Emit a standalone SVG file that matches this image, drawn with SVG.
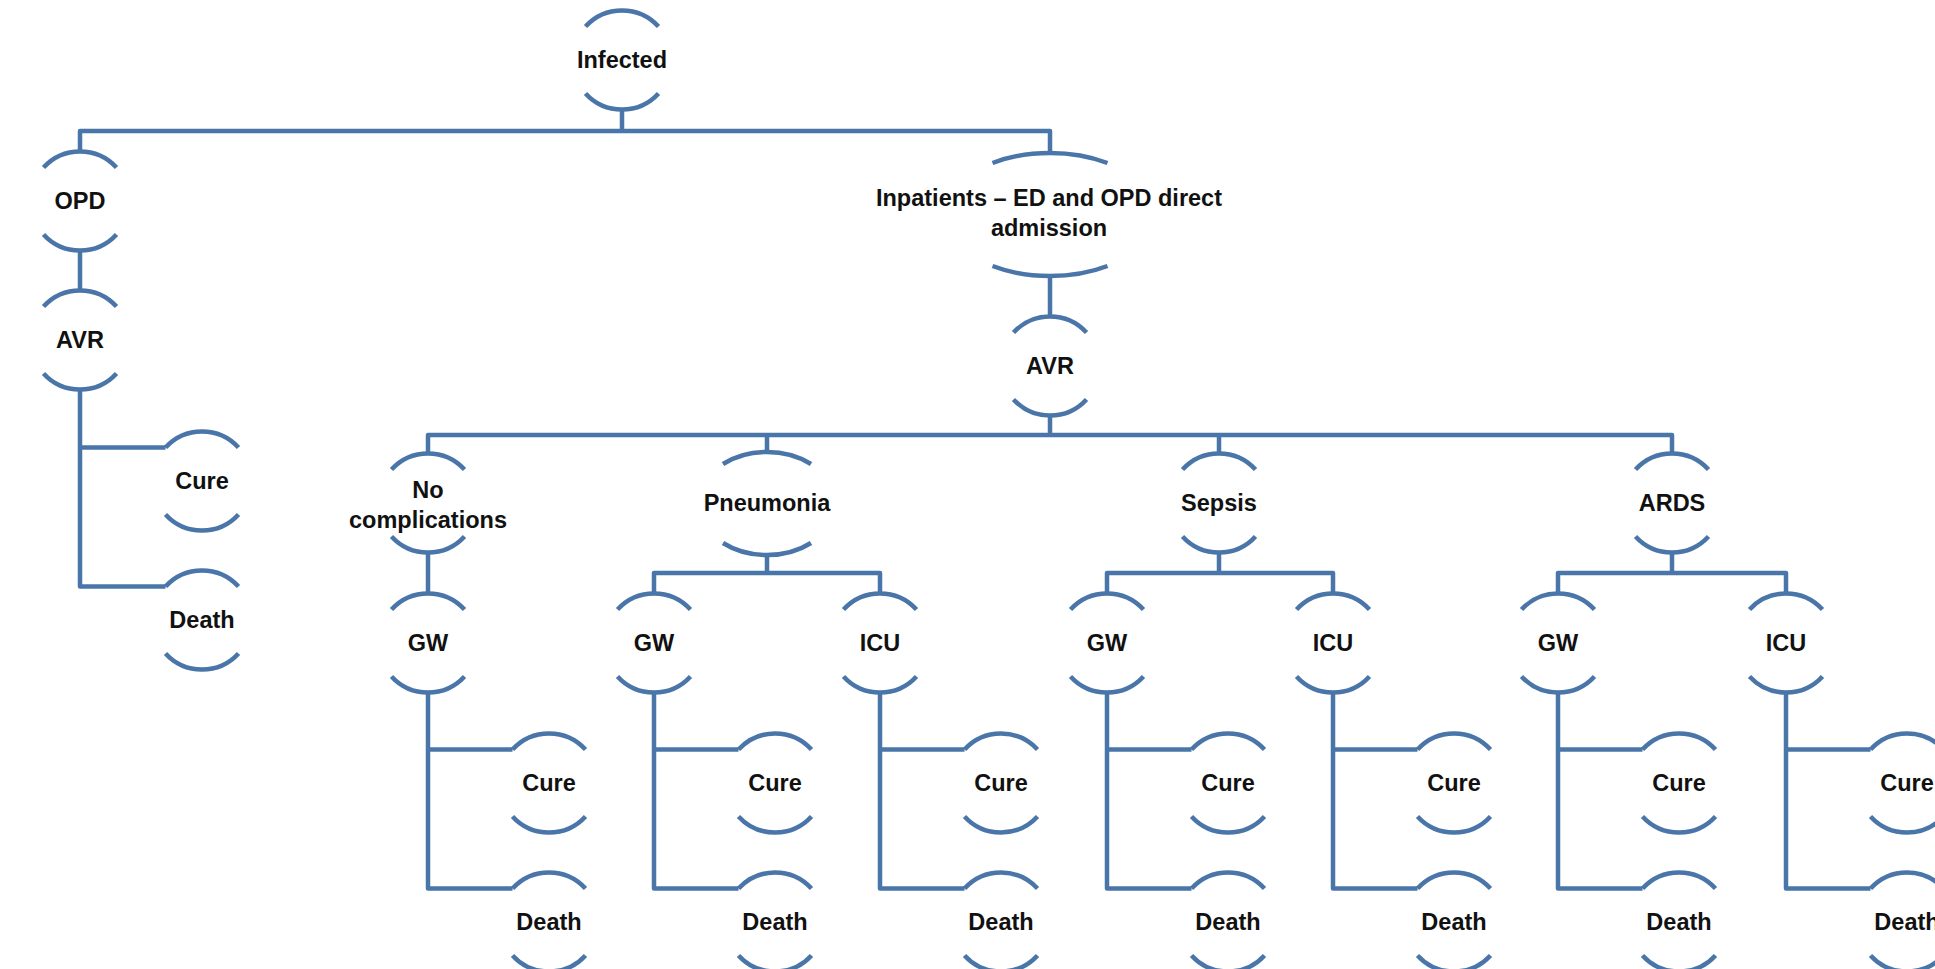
<svg xmlns="http://www.w3.org/2000/svg" xmlns:xlink="http://www.w3.org/1999/xlink" width="1935" height="969" viewBox="0 0 1935 969">
<style>
.arc{fill:none;stroke:#4a75a9;stroke-width:4.5;stroke-linecap:butt}
.ln{fill:none;stroke:#4a75a9;stroke-width:4.5;stroke-linejoin:round;stroke-linecap:butt}
text{font-family:"Liberation Sans",Arial,sans-serif;font-weight:bold;font-size:23.5px;fill:#111;text-anchor:middle}
</style>
<defs>
<path id="nd" class="arc" d="M-36.5,-33.4 A49.5,49.5 0 0 1 36.5,-33.4 M-36.5,33.4 A49.5,49.5 0 0 0 36.5,33.4"/>
</defs>
<rect width="1935" height="969" fill="#fff"/>
<g id="connectors">
<path class="ln" d="M622,109.5 V131 M80,151.5 V131 H1050 V153"/>
<path class="ln" d="M80,250.5 V290.5"/>
<path class="ln" d="M80,389.5 V586.6 H165.5 M80,447.6 H165.5"/>
<path class="ln" d="M1050,276 V316.5"/>
<path class="ln" d="M1050,415.5 V435 M428,453.5 V435 H1672 V453.5 M767,435 V452 M1219,435 V453.5"/>
<path class="ln" d="M428,552.5 V593.5"/>
<path class="ln" d="M767,555 V573 M654,593.5 V573 H880 V593.5"/>
<path class="ln" d="M1219,552.5 V573 M1107,593.5 V573 H1333 V593.5"/>
<path class="ln" d="M1672,552.5 V573 M1558,593.5 V573 H1786 V593.5"/>
<path class="ln" d="M428,692.5 V888.6 H512.5 M428,749.6 H512.5"/>
<path class="ln" d="M654,692.5 V888.6 H738.5 M654,749.6 H738.5"/>
<path class="ln" d="M880,692.5 V888.6 H964.5 M880,749.6 H964.5"/>
<path class="ln" d="M1107,692.5 V888.6 H1191.5 M1107,749.6 H1191.5"/>
<path class="ln" d="M1333,692.5 V888.6 H1417.5 M1333,749.6 H1417.5"/>
<path class="ln" d="M1558,692.5 V888.6 H1642.5 M1558,749.6 H1642.5"/>
<path class="ln" d="M1786,692.5 V888.6 H1870.5 M1786,749.6 H1870.5"/>
</g>
<g id="infected"><use href="#nd" x="622" y="60"/><text x="622" y="68">Infected</text></g>
<g id="opd"><use href="#nd" x="80" y="201"/><text x="80" y="209">OPD</text></g>
<g id="opd-avr"><use href="#nd" x="80" y="340"/><text x="80" y="348">AVR</text></g>
<g id="opd-cure"><use href="#nd" x="202" y="481"/><text x="202" y="489">Cure</text></g>
<g id="opd-death"><use href="#nd" x="202" y="620"/><text x="202" y="628">Death</text></g>
<g id="inpatients"><path class="arc" d="M992.5,163 A105,61.5 0 0 1 1107.5,163 M992.5,266 A105,61.5 0 0 0 1107.5,266"/><text x="1049" y="206">Inpatients – ED and OPD direct</text><text x="1049" y="236">admission</text></g>
<g id="inp-avr"><use href="#nd" x="1050" y="366"/><text x="1050" y="374">AVR</text></g>
<g id="no-complications"><use href="#nd" x="428" y="503"/><text x="428" y="498">No</text><text x="428" y="528">complications</text></g>
<g id="pneumonia"><path class="arc" d="M723,464 A68.5,51.5 0 0 1 811,464 M723,543 A68.5,51.5 0 0 0 811,543"/><text x="767" y="511">Pneumonia</text></g>
<g id="sepsis"><use href="#nd" x="1219" y="503"/><text x="1219" y="511">Sepsis</text></g>
<g id="ards"><use href="#nd" x="1672" y="503"/><text x="1672" y="511">ARDS</text></g>
<g id="nc-gw"><use href="#nd" x="428" y="643"/><text x="428" y="651">GW</text></g>
<g id="pn-gw"><use href="#nd" x="654" y="643"/><text x="654" y="651">GW</text></g>
<g id="pn-icu"><use href="#nd" x="880" y="643"/><text x="880" y="651">ICU</text></g>
<g id="se-gw"><use href="#nd" x="1107" y="643"/><text x="1107" y="651">GW</text></g>
<g id="se-icu"><use href="#nd" x="1333" y="643"/><text x="1333" y="651">ICU</text></g>
<g id="ar-gw"><use href="#nd" x="1558" y="643"/><text x="1558" y="651">GW</text></g>
<g id="ar-icu"><use href="#nd" x="1786" y="643"/><text x="1786" y="651">ICU</text></g>
<g id="nc-gw-cure"><use href="#nd" x="549" y="783"/><text x="549" y="791">Cure</text></g>
<g id="nc-gw-death"><use href="#nd" x="549" y="922"/><text x="549" y="930">Death</text></g>
<g id="pn-gw-cure"><use href="#nd" x="775" y="783"/><text x="775" y="791">Cure</text></g>
<g id="pn-gw-death"><use href="#nd" x="775" y="922"/><text x="775" y="930">Death</text></g>
<g id="pn-icu-cure"><use href="#nd" x="1001" y="783"/><text x="1001" y="791">Cure</text></g>
<g id="pn-icu-death"><use href="#nd" x="1001" y="922"/><text x="1001" y="930">Death</text></g>
<g id="se-gw-cure"><use href="#nd" x="1228" y="783"/><text x="1228" y="791">Cure</text></g>
<g id="se-gw-death"><use href="#nd" x="1228" y="922"/><text x="1228" y="930">Death</text></g>
<g id="se-icu-cure"><use href="#nd" x="1454" y="783"/><text x="1454" y="791">Cure</text></g>
<g id="se-icu-death"><use href="#nd" x="1454" y="922"/><text x="1454" y="930">Death</text></g>
<g id="ar-gw-cure"><use href="#nd" x="1679" y="783"/><text x="1679" y="791">Cure</text></g>
<g id="ar-gw-death"><use href="#nd" x="1679" y="922"/><text x="1679" y="930">Death</text></g>
<g id="ar-icu-cure"><use href="#nd" x="1907" y="783"/><text x="1907" y="791">Cure</text></g>
<g id="ar-icu-death"><use href="#nd" x="1907" y="922"/><text x="1907" y="930">Death</text></g>
</svg>
